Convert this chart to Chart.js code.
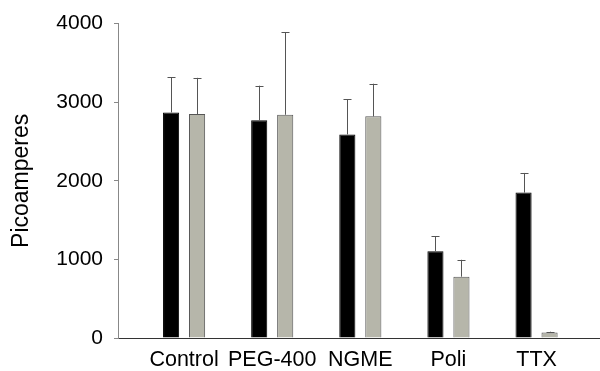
<!DOCTYPE html>
<html>
<head>
<meta charset="utf-8">
<script src="https://cdn.jsdelivr.net/npm/chart.js@4"></script>
<style>
  html, body { margin: 0; padding: 0; background: #fff; }
  #wrap { width: 600px; height: 371px; }
</style>
</head>
<body>
<div id="wrap"><canvas id="chart"></canvas></div>
<script>
const categories = ['Control', 'PEG-400', 'NGME', 'Poli', 'TTX'];
const blackValues = [2870, 2770, 2590, 1105, 1850];
const blackErrors = [445, 440, 450, 190, 250];
const grayValues = [2850, 2840, 2820, 780, 70];
const grayErrors = [460, 1050, 415, 215, 10];
const yTicks = [0, 1000, 2000, 3000, 4000];

// draws the upper error bars with a small cap
const errorBars = {
    id: 'errorBars',
    afterDatasetsDraw(chart) {
        const ctx = chart.ctx;
        const yScale = chart.scales.y;
        ctx.save();
        ctx.strokeStyle = '#555';
        ctx.lineWidth = 1;
        chart.data.datasets.forEach((ds, di) => {
            const meta = chart.getDatasetMeta(di);
            meta.data.forEach((bar, i) => {
                const x = Math.round(bar.x) + 0.5;
                const yTop = yScale.getPixelForValue(ds.data[i].y + ds.errors[i]);
                ctx.beginPath();
                ctx.moveTo(x, bar.y);
                ctx.lineTo(x, yTop);
                ctx.moveTo(x - 4, Math.round(yTop) + 0.5);
                ctx.lineTo(x + 4, Math.round(yTop) + 0.5);
                ctx.stroke();
            });
        });
        ctx.restore();
    }
};

const ctx = document.getElementById('chart').getContext('2d');
new Chart(ctx, {
    type: 'bar',
    data: {
        datasets: [{
            data: blackValues.map((v, i) => ({x: i, y: v})),
            errors: blackErrors,
            backgroundColor: '#000',
            borderColor: '#000',
            borderWidth: 1,
            categoryPercentage: 0.59,
            barPercentage: 0.62
        }, {
            data: grayValues.map((v, i) => ({x: i, y: v})),
            errors: grayErrors,
            backgroundColor: '#b6b6aa',
            borderColor: '#555',
            borderWidth: 1,
            categoryPercentage: 0.59,
            barPercentage: 0.62
        }]
    },
    options: {
        responsive: true,
        maintainAspectRatio: false,
        animation: false,
        layout: { padding: { top: 21, right: 0, left: 0, bottom: 0 } },
        plugins: { legend: { display: false }, tooltip: { enabled: false } },
        scales: {
            x: {
                type: 'linear',
                min: -0.75,
                max: 4.72,
                offset: false,
                afterBuildTicks: axis => { axis.ticks = categories.map((c, i) => ({value: i})); },
                afterFit: axis => { axis.height = 33; },
                grid: { display: true, drawOnChartArea: false, drawTicks: false },
                border: { display: true, color: '#333', width: 1 },
                ticks: {
                    autoSkip: false,
                    maxRotation: 0,
                    padding: 9,
                    color: '#000',
                    font: { family: 'Liberation Sans', size: 21.5 },
                    callback: v => categories[v]
                }
            },
            y: {
                min: 0,
                max: 4000,
                afterBuildTicks: axis => { axis.ticks = yTicks.map(v => ({value: v})); },
                afterFit: axis => { axis.width = 118; },
                grid: { drawOnChartArea: false, drawTicks: true, tickLength: 4, color: '#888' },
                border: { display: true, color: '#888', width: 1 },
                ticks: {
                    padding: 11,
                    color: '#000',
                    font: { family: 'Liberation Sans', size: 21 },
                    callback: v => String(v)
                },
                title: {
                    display: true,
                    text: 'Picoamperes',
                    color: '#000',
                    padding: { top: 8, bottom: 0 },
                    font: { family: 'Liberation Sans', size: 23 }
                }
            }
        }
    },
    plugins: [errorBars]
});
</script>
</body>
</html>
